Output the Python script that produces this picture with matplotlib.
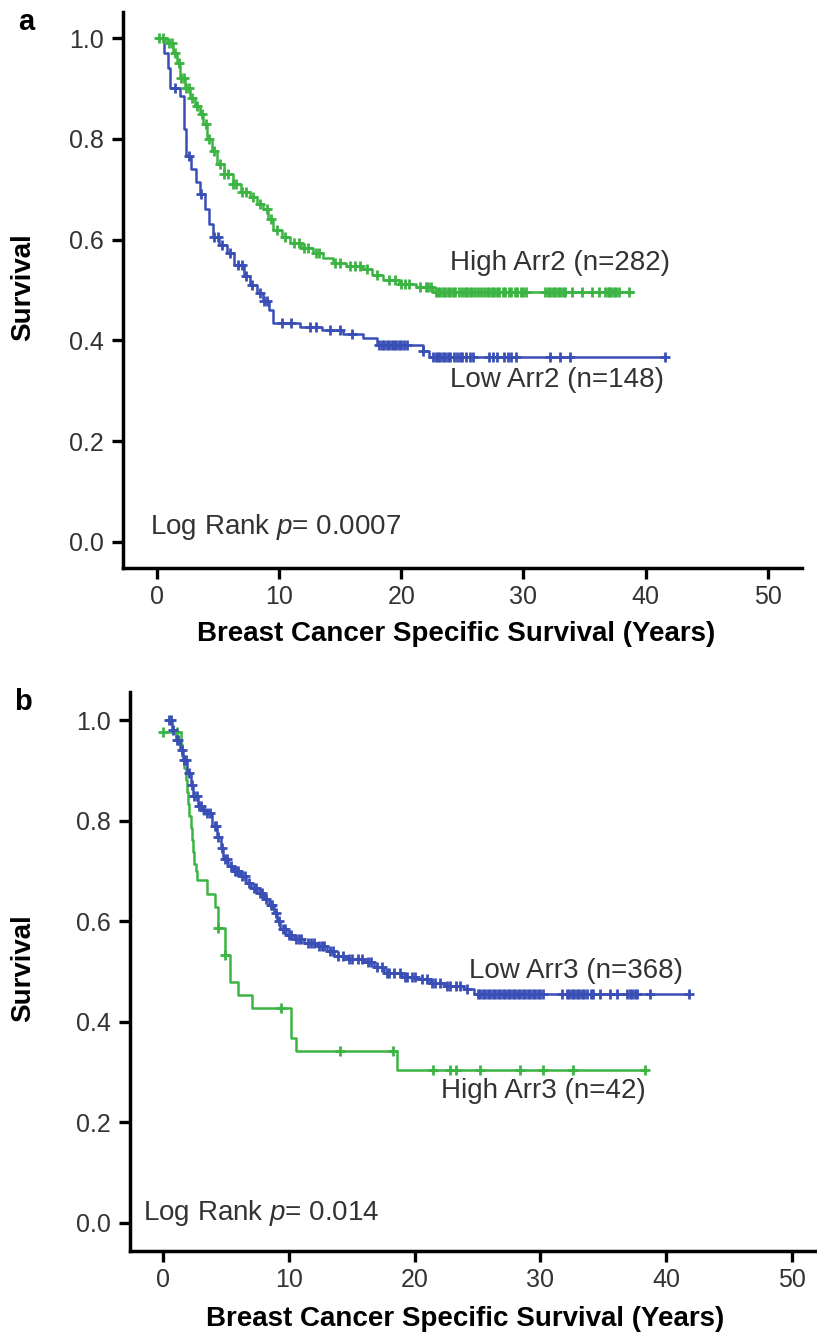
import numpy as np
import matplotlib
matplotlib.use("Agg")
import matplotlib.pyplot as plt

plt.rcParams['font.family'] = ['Liberation Sans', 'DejaVu Sans']
plt.rcParams['mathtext.fontset'] = 'custom'
plt.rcParams['mathtext.rm'] = 'Liberation Sans'
plt.rcParams['mathtext.it'] = 'Liberation Sans:italic'

GREEN = "#3cb444"
BLUE = "#3a4fb6"
GREY = "#333333"

# panel a: High Arr2 (green) / Low Arr2 (blue)
a_high_t = [0.0, 0.8, 1.3, 1.6, 1.9, 2.3, 2.7, 3.1, 3.5, 3.8, 4.1, 4.5, 4.9, 5.5, 6.2,
            6.9, 7.6, 8.2, 8.7, 9.1, 9.5, 10.2, 10.9, 11.8, 12.8, 13.6, 14.4, 15.5,
            16.8, 17.6, 18.5, 19.8, 21.2, 22.6, 39.0]
a_high_s = [1.0, 0.99, 0.97, 0.95, 0.92, 0.90, 0.88, 0.865, 0.85, 0.83, 0.80, 0.775,
            0.75, 0.73, 0.71, 0.695, 0.685, 0.67, 0.66, 0.64, 0.62, 0.605, 0.593,
            0.583, 0.573, 0.563, 0.553, 0.548, 0.542, 0.53, 0.52, 0.512, 0.506,
            0.496, 0.496]
a_high_cens = [0.2, 0.5, 1.0, 1.2, 1.5, 1.8, 2.0, 2.2, 2.4, 2.6, 2.9, 3.3, 3.7, 4.0,
               4.3, 4.7, 5.2, 5.5, 5.8, 6.2, 6.5, 7.0, 7.3, 7.9, 8.4, 9.0, 9.3, 9.8,
               10.5, 11.2, 11.6, 12.0, 12.4, 13.0, 13.3, 14.6, 15.0, 15.8, 16.2,
               16.6, 17.2, 18.0, 19.0, 19.5, 20.0, 20.3, 20.6, 21.5, 22.0, 22.2,
               22.4, 22.8, 23.0, 23.2, 23.4, 23.6, 23.8, 24.0, 24.2, 24.4, 24.7,
               25.0, 25.2, 25.4, 25.6, 25.8, 26.0, 26.3, 26.5, 26.8, 27.0, 27.2,
               27.4, 27.6, 27.8, 28.0, 28.3, 28.5, 28.8, 29.0, 29.3, 29.5, 29.8,
               30.0, 30.2, 31.8, 32.0, 32.2, 32.4, 32.6, 32.8, 33.0, 33.2, 33.4,
               34.0, 34.8, 35.6, 36.2, 36.7, 36.9, 37.0, 37.2, 37.4, 37.6, 37.8,
               38.6]

a_low_t = [0.3, 0.6, 0.9, 1.1, 1.9, 2.2, 2.4, 2.8, 3.2, 3.5, 3.9, 4.3, 4.6, 5.1, 5.7,
           6.3, 7.1, 7.6, 8.2, 8.7, 9.2, 9.5, 11.7, 13.5, 15.2, 16.9, 18.0, 21.8,
           22.3, 41.6]
a_low_s = [1.0, 0.97, 0.94, 0.90, 0.885, 0.82, 0.765, 0.74, 0.715, 0.69, 0.66, 0.63,
           0.605, 0.59, 0.573, 0.55, 0.527, 0.51, 0.494, 0.478, 0.46, 0.434, 0.427,
           0.42, 0.413, 0.405, 0.39, 0.378, 0.368, 0.368]
a_low_cens = [1.5, 2.6, 3.6, 4.7, 5.0, 5.3, 6.0, 6.6, 7.0, 7.3, 7.8, 8.4, 8.8, 9.0,
              10.2, 11.0, 12.5, 13.0, 14.2, 15.0, 16.0, 18.2, 18.4, 18.6, 18.8,
              19.0, 19.2, 19.4, 19.6, 19.8, 20.0, 20.2, 20.5, 21.8, 22.6, 22.8,
              23.0, 23.2, 23.4, 23.6, 23.8, 24.0, 24.3, 24.6, 24.8, 25.0, 25.3,
              25.6, 25.9, 27.2, 27.5, 27.8, 28.4, 28.7, 29.0, 29.4, 32.2, 33.0,
              33.8, 41.6]

# panel b: Low Arr3 (blue) / High Arr3 (green)
b_low_t = [0.4, 0.7, 1.0, 1.36, 1.6, 1.9, 2.2, 2.4, 2.8, 3.1, 3.5, 3.9, 4.3, 4.6, 4.8,
           5.2, 5.6, 6.1, 6.6, 7.0, 7.5, 8.0, 8.4, 8.8, 9.1, 9.3, 9.8, 10.4, 11.2,
           12.3, 13.0, 13.6, 14.6, 16.0, 16.8, 17.6, 19.0, 20.2, 21.2, 22.4, 23.9,
           24.7, 41.8]
b_low_s = [1.0, 0.98, 0.96, 0.94, 0.92, 0.895, 0.87, 0.848, 0.83, 0.822, 0.815, 0.79,
           0.768, 0.745, 0.723, 0.71, 0.70, 0.689, 0.675, 0.667, 0.657, 0.645, 0.632,
           0.617, 0.60, 0.584, 0.573, 0.564, 0.557, 0.55, 0.54, 0.531, 0.525, 0.518,
           0.508, 0.498, 0.49, 0.485, 0.478, 0.471, 0.465, 0.455, 0.455]
b_low_cens = [0.5, 0.6, 0.8, 1.1, 1.2, 1.5, 1.7, 1.8, 2.1, 2.3, 2.5, 2.7, 2.9, 3.0,
              3.3, 3.5, 3.7, 4.1, 4.2, 4.4, 4.7, 4.9, 5.1, 5.4, 5.7, 5.8, 6.0, 6.3,
              6.5, 6.8, 7.2, 7.4, 7.7, 7.9, 8.2, 8.6, 8.7, 9.0, 9.2, 9.5, 9.7,
              10.0, 10.2, 10.6, 10.8, 11.0, 11.5, 11.8, 12.0, 12.4, 12.6, 12.8,
              13.3, 13.5, 13.9, 14.3, 14.8, 15.0, 15.5, 15.8, 16.3, 16.5, 17.0,
              17.4, 17.8, 18.0, 18.4, 18.8, 19.2, 19.4, 19.8, 20.0, 20.6, 21.0,
              21.4, 21.6, 22.0, 22.6, 22.8, 23.3, 23.6, 24.2, 25.0, 25.2, 25.4,
              25.6, 25.8, 26.0, 26.2, 26.4, 26.6, 26.8, 27.0, 27.2, 27.4, 27.6,
              27.8, 28.0, 28.2, 28.4, 28.6, 28.8, 29.0, 29.2, 29.4, 29.6, 29.8,
              30.0, 30.2, 31.7, 32.1, 32.3, 32.5, 32.7, 32.9, 33.1, 33.3, 33.5,
              33.7, 34.0, 34.2, 34.7, 35.5, 36.1, 36.9, 37.1, 37.3, 37.5, 37.7,
              38.7, 41.8]

b_high_t = [0.0, 1.4, 1.55, 1.7, 1.8, 1.9, 2.0, 2.1, 2.2, 2.3, 2.4, 2.5, 2.6, 2.68,
            3.47, 4.13, 4.4, 4.93, 5.33, 5.99, 7.05, 10.2, 10.6, 18.6, 38.3]
b_high_s = [0.976, 0.952, 0.929, 0.905, 0.881, 0.857, 0.833, 0.81, 0.786, 0.762,
            0.738, 0.714, 0.70, 0.682, 0.655, 0.629, 0.586, 0.533, 0.48, 0.453,
            0.427, 0.367, 0.341, 0.304, 0.304]
b_high_cens = [0.0, 1.1, 4.4, 4.93, 9.4, 14.1, 18.3, 21.5, 22.8, 23.3, 25.2, 28.4,
               30.2, 32.6, 38.3]


def km(ax, t, s, cens, color):
    t = np.asarray(t)
    s = np.asarray(s)
    ax.step(t, s, where="post", color=color, linewidth=1.8, zorder=3)
    idx = np.searchsorted(t, cens, side="right") - 1
    ax.plot(cens, s[np.clip(idx, 0, None)], linestyle="none", marker="+",
            markersize=7.5, markeredgewidth=2.0, color=color, zorder=4)


def style(ax, xlim, ylim):
    ax.set_xlim(*xlim)
    ax.set_ylim(*ylim)
    ax.set_xticks([0, 10, 20, 30, 40, 50])
    ax.set_yticks([0.0, 0.2, 0.4, 0.6, 0.8, 1.0])
    ax.set_yticklabels(["0.0", "0.2", "0.4", "0.6", "0.8", "1.0"])
    for sp in ["top", "right"]:
        ax.spines[sp].set_visible(False)
    for sp in ["left", "bottom"]:
        ax.spines[sp].set_linewidth(2.5)
    ax.tick_params(direction="out", length=8, width=2.4, labelsize=18,
                   labelcolor=GREY)
    ax.tick_params(axis="y", pad=6)
    ax.tick_params(axis="x", pad=4)


fig = plt.figure(figsize=(8.17, 13.38), dpi=100)
W, H = 817.0, 1338.0

ax_a = fig.add_axes([123 / W, 1 - 568 / H, (802 - 123) / W, (568 - 12) / H])
km(ax_a, a_high_t, a_high_s, a_high_cens, GREEN)
km(ax_a, a_low_t, a_low_s, a_low_cens, BLUE)
style(ax_a, (-2.78, 52.8), (-0.0516, 1.0516))
ax_a.text(24.0, 0.553, "High Arr2 (n=282)", fontsize=20, color=GREY, va="center")
ax_a.text(24.0, 0.321, "Low Arr2 (n=148)", fontsize=20, color=GREY, va="center")
ax_a.text(-0.55, 0.03, "Log Rank $p$= 0.0007", fontsize=20, color=GREY, va="center")

ax_b = fig.add_axes([130 / W, 1 - 1251 / H, (816 - 130) / W, (1251 - 692) / H])
km(ax_b, b_high_t, b_high_s, b_high_cens, GREEN)
km(ax_b, b_low_t, b_low_s, b_low_cens, BLUE)
style(ax_b, (-2.62, 51.9), (-0.0557, 1.0557))
ax_b.text(24.3, 0.501, "Low Arr3 (n=368)", fontsize=20, color=GREY, va="center")
ax_b.text(22.1, 0.263, "High Arr3 (n=42)", fontsize=20, color=GREY, va="center")
ax_b.text(-1.6, 0.02, "Log Rank $p$= 0.014", fontsize=20, color=GREY, va="center")

# axis titles and panel letters
xl = "Breast Cancer Specific Survival (Years)"
fig.text(456 / W, 1 - 634 / H, xl, fontsize=20, fontweight="bold",
         ha="center", va="center")
fig.text(465 / W, 1 - 1319 / H, xl, fontsize=20, fontweight="bold",
         ha="center", va="center")
fig.text(23 / W, 1 - 287 / H, "Survival", fontsize=20, fontweight="bold",
         rotation=90, ha="center", va="center")
fig.text(23 / W, 1 - 968 / H, "Survival", fontsize=20, fontweight="bold",
         rotation=90, ha="center", va="center")
fig.text(26 / W, 1 - 22 / H, "a", fontsize=21, fontweight="bold",
         ha="center", va="center")
fig.text(23 / W, 1 - 702 / H, "b", fontsize=21, fontweight="bold",
         ha="center", va="center")

plt.savefig("out.png", dpi=100)
plt.close()
